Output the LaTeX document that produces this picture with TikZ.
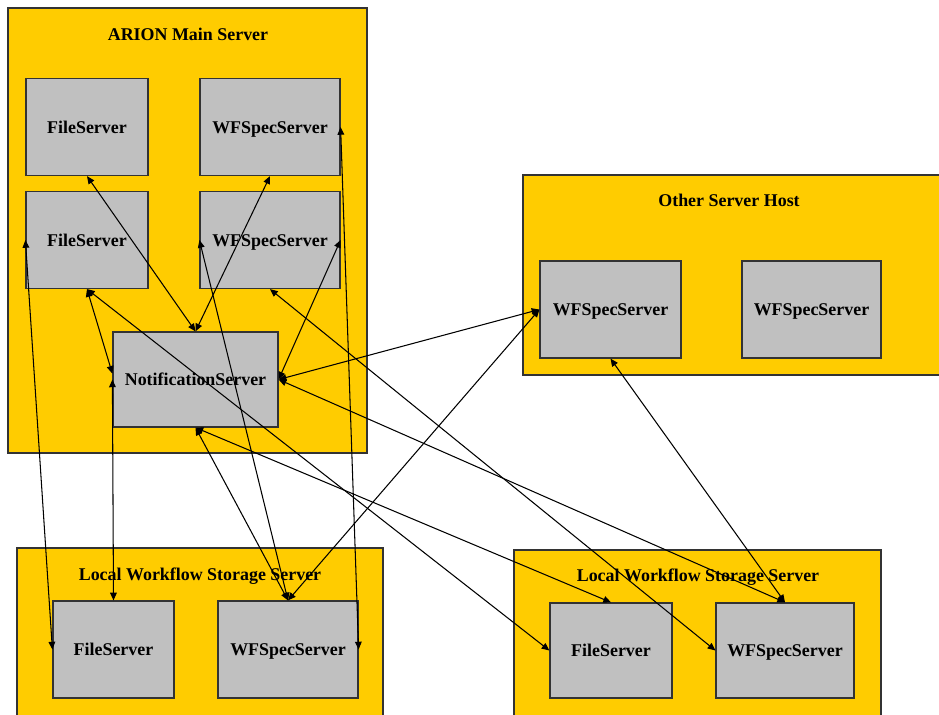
\documentclass[tikz,border=0pt]{standalone}
\usepackage{fontspec}
\setmainfont{Liberation Serif}
\usetikzlibrary{arrows.meta}
\definecolor{hostyellow}{HTML}{FFCC00}
\definecolor{srvgray}{HTML}{C0C0C0}
\definecolor{edgegray}{HTML}{333333}

\begin{document}
\begin{tikzpicture}[x=0.02cm, y=-0.02cm, line width=0.6pt,
    host/.style={draw=edgegray, fill=hostyellow, line width=0.7pt},
    hosttitle/.style={font=\fontsize{10.2}{12}\selectfont\bfseries},
    srv/.style={draw=edgegray, fill=srvgray, line width=0.7pt, minimum height=1.94cm,
      inner sep=0pt, text height=1.5ex, text depth=0ex, font=\fontsize{10.2}{12}\selectfont\bfseries},
    link/.style={{Triangle[length=4.4pt,width=3.8pt]}-{Triangle[length=4.4pt,width=3.8pt]}, black}]
    \useasboundingbox (0,0) rectangle (939,714);
    \clip (0,0) rectangle (939,714);
    % hosts
    \filldraw[host] (8,8) rectangle (367,453);
    \node[hosttitle] (maintitle) at (188,34) {ARION Main Server};
    \filldraw[host] (523,175) rectangle (945,375);
    \node[hosttitle] (othertitle) at (729,200) {Other Server Host};
    \filldraw[host] (17,548) rectangle (383,720);
    \node[hosttitle] (lefttitle) at (200,576) {Local Workflow Storage Server};
    \filldraw[host] (514,550) rectangle (881,720);
    \node[hosttitle] (righttitle) at (698,577) {Local Workflow Storage Server};
    % servers
    \node[srv, minimum width=2.44cm] (fs1) at (87,127) {FileServer};
    \node[srv, minimum width=2.8cm] (wfs1) at (270,127) {WFSpecServer};
    \node[srv, minimum width=2.44cm] (fs2) at (87,240) {FileServer};
    \node[srv, minimum width=2.8cm] (wfs2) at (270,240) {WFSpecServer};
    \node[srv, minimum width=3.3cm, minimum height=1.9cm] (ns) at (195.5,379.5) {NotificationServer};
    \node[srv, minimum width=2.82cm] (owa) at (610.5,309.5) {WFSpecServer};
    \node[srv, minimum width=2.78cm] (owb) at (811.5,309.5) {WFSpecServer};
    \node[srv, minimum width=2.42cm] (lfs) at (113.5,649.5) {FileServer};
    \node[srv, minimum width=2.8cm] (lwfs) at (288,649.5) {WFSpecServer};
    \node[srv, minimum width=2.44cm, minimum height=1.9cm] (rfs) at (611,650.5) {FileServer};
    \node[srv, minimum width=2.76cm, minimum height=1.9cm] (rwfs) at (785,650.5) {WFSpecServer};
    % links
    \foreach \a/\b in {fs1.south/ns.north, wfs1.south/ns.north, fs2.south/ns.176,
        fs2.south/rfs.west, fs2.west/lfs.west, ns.west/lfs.north, wfs2.west/lwfs.north,
        wfs2.east/ns.east, wfs2.south/rwfs.west, wfs1.east/lwfs.east, ns.east/owa.west,
        ns.east/rwfs.north, ns.south/lwfs.north, ns.south/rfs.north, lwfs.north/owa.west,
        owa.south/rwfs.north}
      \draw[link] (\a) -- (\b);
\end{tikzpicture}
\end{document}
